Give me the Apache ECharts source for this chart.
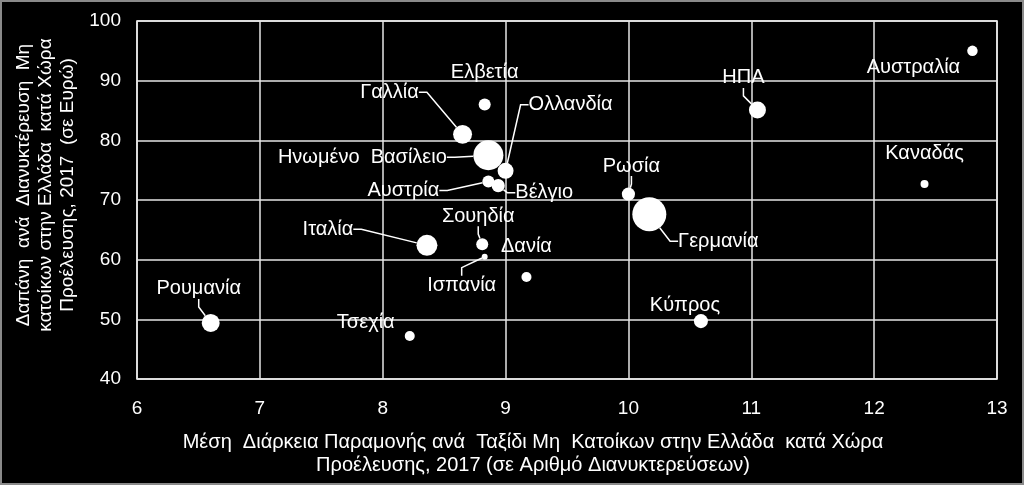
<!DOCTYPE html>
<html><head><meta charset="utf-8">
<script src="https://cdn.jsdelivr.net/npm/echarts@6/dist/echarts.min.js"></script>
<style>html,body{margin:0;padding:0;background:#000;}#c{width:1024px;height:485px;}</style>
</head><body><div id="c"></div>
<script>
// ---- data ----
const countries = ['Ελβετία','Γαλλία','Ηνωμένο  Βασίλειο','Ολλανδία','Αυστρία','Βέλγιο','Σουηδία','Ισπανία','Δανία','Ιταλία','Ρουμανία','Τσεχία','ΗΠΑ','Αυστραλία','Καναδάς','Ρωσία','Γερμανία','Κύπρος'];
const avgStayNights = [8.83, 8.65, 8.86, 9.00, 8.86, 8.94, 8.81, 8.83, 9.17, 8.36, 6.60, 8.22, 11.05, 12.80, 12.41, 10.00, 10.17, 10.59];
const spendPerNight = [86.0, 81.0, 77.5, 74.9, 73.1, 72.4, 62.6, 60.5, 57.1, 62.4, 49.4, 47.2, 85.1, 95.0, 72.7, 71.0, 67.6, 49.7];
const bubbleWeight = [12.5, 31, 78, 22, 12.5, 15, 12.5, 3.1, 8.7, 38, 28, 8.7, 25, 9.5, 5.5, 15, 100, 17];
const xTicks = [6, 7, 8, 9, 10, 11, 12, 13];
const yTicks = [40, 50, 60, 70, 80, 90, 100];

// ---- label layout (pixel offsets from bubble centre, leader line on/off) ----
const labelPlacement = {
  'Ελβετία': [0, -32, false], 'Γαλλία': [-73, -42, true], 'Ηνωμένο  Βασίλειο': [-126, 2, true],
  'Ολλανδία': [65, -66, true], 'Αυστρία': [-85, 9, true], 'Βέλγιο': [46, 7, true],
  'Σουηδία': [-4, -28, true], 'Ισπανία': [-23, 29, true], 'Δανία': [0, -30, false],
  'Ιταλία': [-99, -16, true], 'Ρουμανία': [-12, -34, true], 'Τσεχία': [-44, -14, false],
  'ΗΠΑ': [-14, -32, true], 'Αυστραλία': [-59, 17, false], 'Καναδάς': [0, -30, false],
  'Ρωσία': [3, -28, true], 'Γερμανία': [69, 27, true], 'Κύπρος': [-16, -16, false]
};

const FONT = 'Liberation Sans, Arial, sans-serif';
const data = countries.map((n, i) => ({
  name: n,
  value: [avgStayNights[i], spendPerNight[i], bubbleWeight[i]],
  labelLine: { show: labelPlacement[n][2] }
}));

const chart = echarts.init(document.getElementById('c'));
chart.setOption({
  backgroundColor: '#000',
  animation: false,
  grid: { left: 137, right: 27, top: 21, bottom: 106, show: true, borderColor: '#fff', borderWidth: 1.5 },
  xAxis: {
    type: 'value', min: xTicks[0], max: xTicks[xTicks.length - 1], interval: 1,
    axisLine: { show: false }, axisTick: { show: false },
    splitLine: { show: true, lineStyle: { color: '#e6e6e6', width: 1.5 } },
    axisLabel: { color: '#fff', fontSize: 19, fontFamily: FONT, margin: 20 }
  },
  yAxis: {
    type: 'value', min: yTicks[0], max: yTicks[yTicks.length - 1], interval: 10,
    axisLine: { show: false }, axisTick: { show: false },
    splitLine: { show: true, lineStyle: { color: '#e6e6e6', width: 1.5 } },
    axisLabel: { color: '#fff', fontSize: 19, fontFamily: FONT, margin: 16 }
  },
  series: [{
    type: 'scatter',
    data: data,
    symbolSize: v => 34 * Math.sqrt(v[2] / 100),
    itemStyle: { color: '#fff', opacity: 1 },
    label: {
      show: true, position: 'inside', formatter: p => p.name,
      color: '#fff', fontSize: 20, fontFamily: FONT, textBorderWidth: 0
    },
    labelLine: { show: true, length2: 8, lineStyle: { color: '#fff', width: 1.5 } },
    labelLayout: p => {
      const o = labelPlacement[countries[p.dataIndex]];
      return { dx: o[0], dy: o[1] };
    },
    emphasis: { disabled: true }
  }],
  graphic: [
    { type: 'rect', shape: { x: 1, y: 1, width: 1022, height: 483 }, style: { fill: null, stroke: '#8a8a8a', lineWidth: 2 }, silent: true },
    { type: 'text', x: 46, y: 185, rotation: Math.PI / 2,
      style: { text: 'Δαπάνη  ανά  Διανυκτέρευση  Μη\nκατοίκων στην Ελλάδα  κατά Χώρα\nΠροέλευσης, 2017  (σε Ευρώ)',
        align: 'center', verticalAlign: 'middle', fill: '#fff', font: '19px ' + FONT, lineHeight: 22 } },
    { type: 'text', x: 533, y: 454,
      style: { text: 'Μέση  Διάρκεια Παραμονής ανά  Ταξίδι Μη  Κατοίκων στην Ελλάδα  κατά Χώρα\nΠροέλευσης, 2017 (σε Αριθμό Διανυκτερεύσεων)',
        align: 'center', verticalAlign: 'middle', fill: '#fff', font: '20px ' + FONT, lineHeight: 23 } }
  ]
});
</script></body></html>
